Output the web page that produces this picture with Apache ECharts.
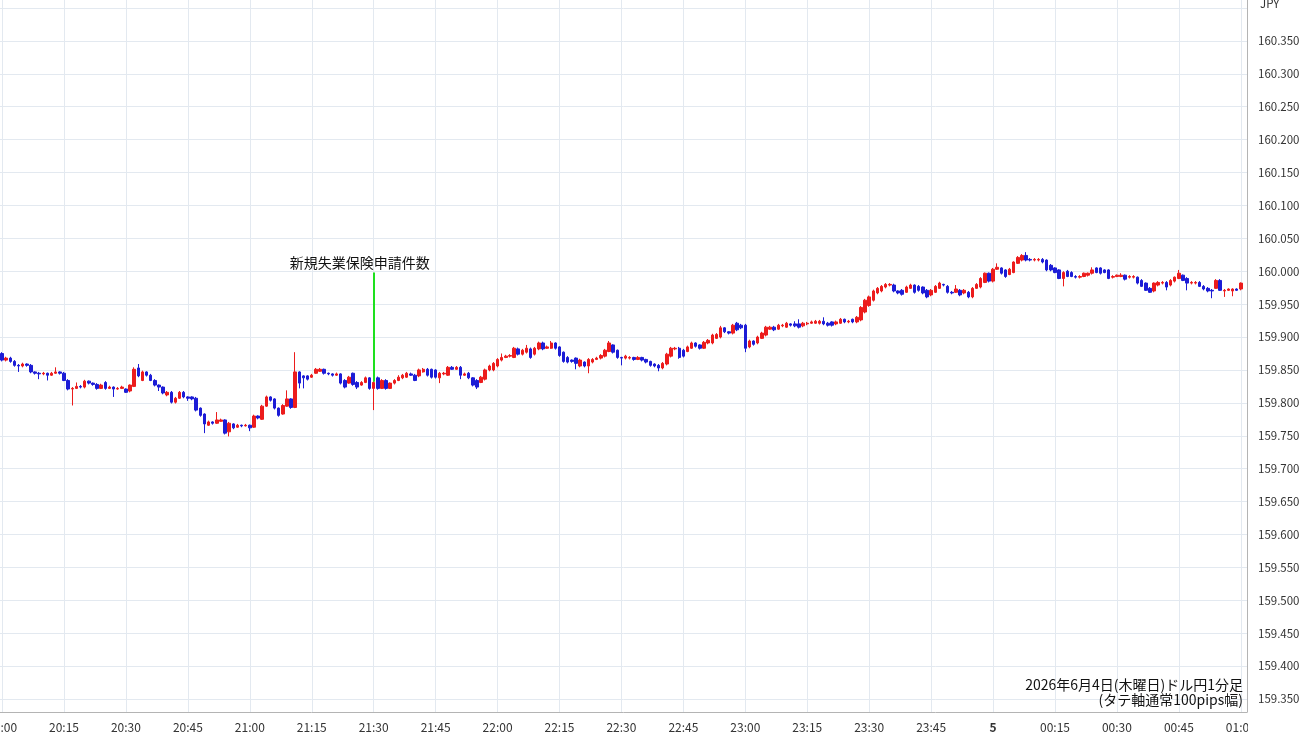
<!DOCTYPE html>
<html><head><meta charset="utf-8">
<script src="https://cdn.jsdelivr.net/npm/echarts@6/dist/echarts.min.js"></script>
<style>html,body{margin:0;padding:0;background:#fff}#c{width:1300px;height:745px}</style>
</head><body><div id="c"></div>
<script>
// ---- categories: 1-minute bars from 20:00 (one spare slot after 01:00) ----
const startHour = 20;
const slotCount = 302;
const times = [];
for (let i = 0; i < slotCount; i++) {
  const h = (startHour + Math.floor(i / 60)) % 24, m = i % 60;
  times.push(String(h).padStart(2, '0') + ':' + String(m).padStart(2, '0'));
}

// ---- OHLC values (USD/JPY, 1-minute) ----
const openPrices = [
159.875,159.865,159.868,159.863,159.857,159.856,159.859,159.857,159.847,159.845,
159.844,159.845,159.842,159.845,159.847,159.845,159.834,159.821,159.822,159.825,
159.824,159.833,159.830,159.828,159.822,159.831,159.822,159.824,159.821,159.822,
159.821,159.818,159.825,159.853,159.834,159.847,159.842,159.834,159.827,159.824,
159.812,159.816,159.801,159.807,159.816,159.809,159.809,159.807,159.792,159.783,
159.766,159.771,159.769,159.772,159.774,159.756,159.768,159.763,159.766,159.765,
159.766,159.763,159.780,159.775,159.795,159.809,159.806,159.792,159.783,159.795,
159.806,159.793,159.847,159.841,159.841,159.839,159.845,159.848,159.851,159.845,
159.844,159.842,159.844,159.834,159.830,159.845,159.831,159.827,159.831,159.838,
159.822,159.838,159.822,159.834,159.822,159.830,159.834,159.838,159.839,159.844,
159.842,159.841,159.847,159.851,159.851,159.850,159.838,159.844,159.842,159.854,
159.851,159.854,159.842,159.845,159.838,159.834,159.831,159.836,159.850,159.850,
159.856,159.865,159.869,159.871,159.869,159.882,159.874,159.877,159.882,159.874,
159.882,159.891,159.883,159.883,159.891,159.885,159.877,159.869,159.865,159.868,
159.856,159.862,159.856,159.862,159.866,159.868,159.871,159.878,159.888,159.880,
159.869,159.868,159.868,159.869,159.866,159.869,159.866,159.863,159.859,159.857,
159.853,159.859,159.871,159.882,159.883,159.880,159.878,159.883,159.891,159.888,
159.883,159.891,159.891,159.898,159.900,159.914,159.908,159.906,159.921,159.918,
159.918,159.885,159.894,159.891,159.898,159.903,159.912,159.915,159.912,159.917,
159.915,159.920,159.920,159.920,159.917,159.920,159.921,159.921,159.921,159.924,
159.921,159.923,159.920,159.921,159.927,159.923,159.927,159.923,159.926,159.938,
159.948,159.956,159.967,159.970,159.976,159.979,159.979,159.970,159.971,159.968,
159.974,159.979,159.977,159.976,159.971,159.964,159.968,159.974,159.980,159.977,
159.968,159.968,159.971,159.967,159.968,159.961,159.974,159.976,159.983,159.997,
159.985,160.003,160.005,160.002,159.995,159.998,160.012,160.017,160.024,160.018,
160.017,160.017,160.018,160.017,160.009,160.005,160.002,159.989,160.000,159.998,
159.992,159.991,159.992,159.994,159.997,160.005,160.005,160.002,160.002,159.991,
159.992,159.992,159.994,159.991,159.991,159.991,159.986,159.982,159.974,159.970,
159.979,159.982,159.983,159.979,159.985,159.989,159.994,159.989,159.982,159.982,
159.983,159.977,159.974,159.971,159.974,159.986,159.970,159.971,159.970,159.973,
159.973
];
const closePrices = [
159.865,159.868,159.863,159.857,159.856,159.859,159.857,159.847,159.845,159.844,
159.845,159.842,159.845,159.847,159.845,159.834,159.821,159.822,159.825,159.824,
159.833,159.830,159.828,159.822,159.827,159.822,159.824,159.821,159.822,159.824,
159.816,159.827,159.851,159.841,159.847,159.842,159.834,159.827,159.824,159.815,
159.816,159.801,159.807,159.816,159.809,159.807,159.806,159.789,159.781,159.768,
159.771,159.769,159.774,159.774,159.754,159.769,159.762,159.766,159.765,159.766,
159.762,159.780,159.777,159.795,159.809,159.804,159.792,159.781,159.796,159.806,
159.793,159.847,159.830,159.838,159.836,159.842,159.851,159.851,159.845,159.844,
159.842,159.844,159.830,159.824,159.839,159.828,159.824,159.831,159.838,159.822,
159.831,159.822,159.834,159.822,159.830,159.834,159.839,159.842,159.845,159.842,
159.834,159.850,159.851,159.842,159.839,159.839,159.845,159.845,159.854,159.851,
159.854,159.842,159.844,159.838,159.827,159.824,159.839,159.850,159.856,159.860,
159.866,159.869,159.871,159.872,159.883,159.874,159.880,159.883,159.869,159.883,
159.891,159.882,159.885,159.891,159.883,159.872,159.863,159.862,159.863,159.860,
159.865,159.856,159.866,159.866,159.868,159.872,159.880,159.891,159.877,159.869,
159.868,159.871,159.869,159.866,159.869,159.865,159.862,159.857,159.856,159.853,
159.860,159.874,159.883,159.883,159.869,159.871,159.885,159.891,159.886,159.883,
159.892,159.895,159.903,159.904,159.914,159.908,159.906,159.918,159.911,159.914,
159.883,159.894,159.889,159.900,159.906,159.915,159.915,159.911,159.918,159.918,
159.921,159.918,159.917,159.915,159.921,159.921,159.923,159.924,159.924,159.920,
159.918,159.918,159.923,159.927,159.923,159.924,159.923,159.930,159.945,159.956,
159.961,159.970,159.974,159.977,159.980,159.980,159.970,159.967,159.965,159.976,
159.979,159.968,159.971,159.967,159.961,159.971,159.977,159.982,159.979,159.968,
159.967,159.973,159.964,159.971,159.961,159.974,159.980,159.989,159.997,159.985,
160.003,160.006,159.997,159.992,160.003,160.014,160.021,160.024,160.017,160.017,
160.018,160.018,160.014,160.002,160.002,159.998,159.989,159.998,159.992,159.992,
159.991,159.992,159.997,159.997,160.002,159.998,159.997,159.998,159.989,159.992,
159.994,159.994,159.988,159.992,159.992,159.982,159.977,159.971,159.968,159.982,
159.983,159.983,159.976,159.986,159.991,159.997,159.986,159.982,159.983,159.983,
159.977,159.973,159.970,159.970,159.986,159.971,159.971,159.973,159.973,159.971,
159.982
];
const lowPrices = [
159.863,159.863,159.861,159.855,159.847,159.854,159.855,159.845,159.843,159.836,
159.842,159.834,159.841,159.844,159.843,159.833,159.819,159.796,159.821,159.822,
159.822,159.828,159.826,159.820,159.821,159.820,159.821,159.809,159.820,159.821,
159.815,159.816,159.824,159.839,159.833,159.840,159.833,159.825,159.818,159.813,
159.810,159.799,159.799,159.806,159.807,159.803,159.804,159.787,159.779,159.754,
159.765,159.767,159.768,159.771,159.752,159.749,159.760,159.762,159.763,159.764,
159.757,159.762,159.775,159.774,159.794,159.802,159.790,159.779,159.782,159.794,
159.791,159.792,159.822,159.822,159.834,159.838,159.844,159.847,159.843,159.842,
159.840,159.841,159.828,159.822,159.829,159.826,159.821,159.826,159.830,159.820,
159.789,159.820,159.821,159.820,159.821,159.828,159.833,159.836,159.838,159.841,
159.833,159.839,159.846,159.840,159.837,159.837,159.830,159.842,159.841,159.850,
159.850,159.836,159.841,159.836,159.825,159.821,159.830,159.834,159.848,159.848,
159.854,159.863,159.868,159.869,159.868,159.872,159.872,159.875,159.867,159.872,
159.880,159.880,159.882,159.882,159.881,159.870,159.861,159.860,159.861,159.851,
159.854,159.854,159.845,159.860,159.865,159.866,159.869,159.877,159.875,159.867,
159.857,159.866,159.866,159.864,159.865,159.863,159.860,159.855,159.854,159.848,
159.851,159.857,159.869,159.880,159.867,159.869,159.877,159.882,159.884,159.881,
159.882,159.889,159.889,159.897,159.898,159.906,159.904,159.904,159.909,159.912,
159.877,159.883,159.887,159.889,159.897,159.901,159.911,159.909,159.911,159.915,
159.914,159.916,159.915,159.913,159.915,159.918,159.920,159.920,159.919,159.918,
159.916,159.916,159.918,159.920,159.921,159.921,159.921,159.921,159.924,159.936,
159.946,159.954,159.965,159.968,159.974,159.977,159.968,159.965,159.963,159.967,
159.973,159.966,159.969,159.965,159.959,159.962,159.967,159.973,159.977,159.966,
159.965,159.967,159.962,159.965,159.959,159.959,159.973,159.974,159.982,159.983,
159.983,160.002,159.995,159.990,159.994,159.997,160.011,160.015,160.015,160.015,
160.015,160.015,160.012,160.000,160.000,159.997,159.988,159.977,159.991,159.991,
159.989,159.989,159.991,159.992,159.995,159.997,159.995,159.997,159.988,159.989,
159.991,159.991,159.986,159.989,159.989,159.980,159.976,159.970,159.967,159.968,
159.977,159.980,159.971,159.977,159.983,159.988,159.985,159.971,159.980,159.980,
159.976,159.971,159.968,159.959,159.973,159.970,159.961,159.970,159.962,159.970,
159.971
];
const highPrices = [
159.877,159.870,159.870,159.865,159.859,159.861,159.860,159.859,159.848,159.847,
159.847,159.846,159.847,159.854,159.848,159.847,159.836,159.824,159.831,159.827,
159.835,159.834,159.831,159.830,159.829,159.833,159.826,159.825,159.824,159.826,
159.822,159.828,159.854,159.859,159.849,159.848,159.844,159.836,159.828,159.825,
159.818,159.818,159.809,159.818,159.818,159.810,159.810,159.809,159.793,159.784,
159.773,159.772,159.786,159.776,159.775,159.771,159.769,159.768,159.767,159.768,
159.767,159.782,159.781,159.797,159.811,159.810,159.807,159.793,159.798,159.819,
159.807,159.877,159.848,159.842,159.842,159.844,159.853,159.853,159.852,159.846,
159.845,159.846,159.845,159.836,159.841,159.846,159.833,159.833,159.840,159.839,
159.834,159.840,159.836,159.836,159.831,159.836,159.842,159.844,159.847,159.846,
159.844,159.852,159.853,159.853,159.852,159.851,159.847,159.847,159.856,159.856,
159.856,159.856,159.846,159.847,159.839,159.836,159.841,159.852,159.858,159.862,
159.868,159.875,159.873,159.874,159.885,159.884,159.882,159.888,159.884,159.885,
159.893,159.893,159.887,159.894,159.892,159.886,159.878,159.871,159.866,159.869,
159.867,159.863,159.868,159.868,159.870,159.874,159.882,159.894,159.889,159.881,
159.870,159.873,159.871,159.870,159.871,159.870,159.867,159.864,159.860,159.859,
159.862,159.876,159.885,159.885,159.885,159.882,159.887,159.893,159.892,159.889,
159.894,159.897,159.905,159.906,159.917,159.915,159.909,159.920,159.923,159.920,
159.920,159.896,159.895,159.902,159.908,159.917,159.917,159.917,159.920,159.920,
159.923,159.921,159.924,159.927,159.923,159.923,159.925,159.926,159.926,159.930,
159.923,159.924,159.925,159.929,159.928,159.926,159.928,159.932,159.947,159.958,
159.963,159.972,159.976,159.979,159.982,159.982,159.981,159.971,159.973,159.978,
159.981,159.980,159.979,159.977,159.973,159.973,159.979,159.984,159.981,159.979,
159.970,159.979,159.973,159.973,159.970,159.976,159.982,159.991,159.998,159.998,
160.005,160.012,160.006,160.003,160.005,160.015,160.023,160.026,160.029,160.020,
160.020,160.020,160.020,160.018,160.011,160.006,160.003,160.000,160.002,160.000,
159.994,159.994,159.998,159.998,160.006,160.006,160.006,160.003,160.003,159.994,
159.995,159.997,159.995,159.994,159.994,159.992,159.988,159.983,159.976,159.983,
159.985,159.985,159.985,159.988,159.992,160.002,159.995,159.991,159.985,159.985,
159.985,159.979,159.976,159.973,159.988,159.988,159.973,159.974,159.974,159.974,
159.983
];

// ---- axis / annotation texts ----
const priceMin = 159.35, priceMax = 160.40, priceStep = 0.05;
const dayMarkTime = '00:00', dayMarkLabel = '5';
const unitLabel = 'JPY';
const eventTime = '21:30';
const eventLabel = '新規失業保険申請件数';
const eventLinePrices = [159.998, 159.832];
const captionLines = ['2026年6月4日(木曜日)ドル円1分足', '(タテ軸通常100pips幅)'];

const FONT = '"Noto Sans CJK JP", "Noto Sans", sans-serif';
const UP = '#ec1c1c', DOWN = '#1c1cd6', GRID = '#e3e9f0', AXIS = '#b4b4b4';

const candles = openPrices.map((o, i) => [o, closePrices[i], lowPrices[i], highPrices[i]]);
const every15 = (idx, val) => Number(val.slice(3)) % 15 === 0;

const chart = echarts.init(document.getElementById('c'), null, { renderer: 'canvas' });
chart.setOption({
  animation: false,
  backgroundColor: '#ffffff',
  textStyle: { fontFamily: FONT },
  grid: [
    { left: 0, right: 53, top: 8, bottom: 46, containLabel: false, outerBoundsMode: 'none' },
    { left: 0, right: 53, top: 0, bottom: 33, containLabel: false, outerBoundsMode: 'none' }
  ],
  xAxis: [
    { type: 'category', gridIndex: 0, data: times, boundaryGap: true, show: false },
    {
      type: 'category', gridIndex: 1, data: times, boundaryGap: true,
      axisLine: { show: true, lineStyle: { color: AXIS } },
      axisTick: { show: false },
      axisLabel: {
        interval: every15, color: '#333', fontSize: 12, margin: 9, fontFamily: FONT,
        hideOverlap: false,
        formatter: v => v === dayMarkTime ? '{d|' + dayMarkLabel + '}' : v,
        rich: { d: { fontWeight: 'bold', fontSize: 12, color: '#333', fontFamily: FONT } }
      },
      splitLine: { show: true, interval: every15, alignWithLabel: true, lineStyle: { color: GRID, width: 1 } }
    }
  ],
  yAxis: [
    {
      type: 'value', gridIndex: 0, position: 'right',
      min: priceMin, max: priceMax, interval: priceStep,
      axisLine: { show: false }, axisTick: { show: false },
      axisLabel: {
        color: '#333', fontSize: 11.5, margin: 11, align: 'left', fontFamily: FONT,
        formatter: v => Math.abs(v - priceMax) < 1e-6 ? '' : v.toFixed(3)
      },
      splitLine: { show: true, lineStyle: { color: GRID, width: 1 } },
      name: unitLabel, nameLocation: 'end', nameGap: 4,
      nameTextStyle: { color: '#333', fontSize: 11.5, align: 'left', verticalAlign: 'middle', padding: [0, 0, 0, 13], fontFamily: FONT }
    },
    {
      type: 'value', gridIndex: 1, position: 'right', min: 0, max: 1,
      axisLine: { show: true, lineStyle: { color: AXIS } },
      axisTick: { show: false }, axisLabel: { show: false }, splitLine: { show: false }
    }
  ],
  series: [{
    type: 'candlestick', xAxisIndex: 0, yAxisIndex: 0,
    data: candles, barWidth: '72%',
    itemStyle: { color: UP, color0: DOWN, borderColor: UP, borderColor0: DOWN, borderWidth: 1 },
    markLine: {
      silent: true, animation: false, symbol: ['none', 'none'],
      lineStyle: { color: '#1ee01e', width: 2, type: 'solid' },
      label: { show: true, position: 'start', formatter: eventLabel, color: '#111', fontSize: 14, fontFamily: FONT, offset: [-14, 2] },
      data: [[{ coord: [eventTime, eventLinePrices[0]] }, { coord: [eventTime, eventLinePrices[1]] }]]
    }
  }],
  graphic: [
    { type: 'rect', z: 50, shape: { x: 1248, y: 713, width: 52, height: 32 }, style: { fill: '#ffffff' } },
    {
      type: 'text', z: 60, right: 57, top: 677,
      style: { text: captionLines.join('\n'), textAlign: 'right', fill: '#111', font: '14px ' + FONT, lineHeight: 15 }
    }
  ]
});
</script>
</body></html>
